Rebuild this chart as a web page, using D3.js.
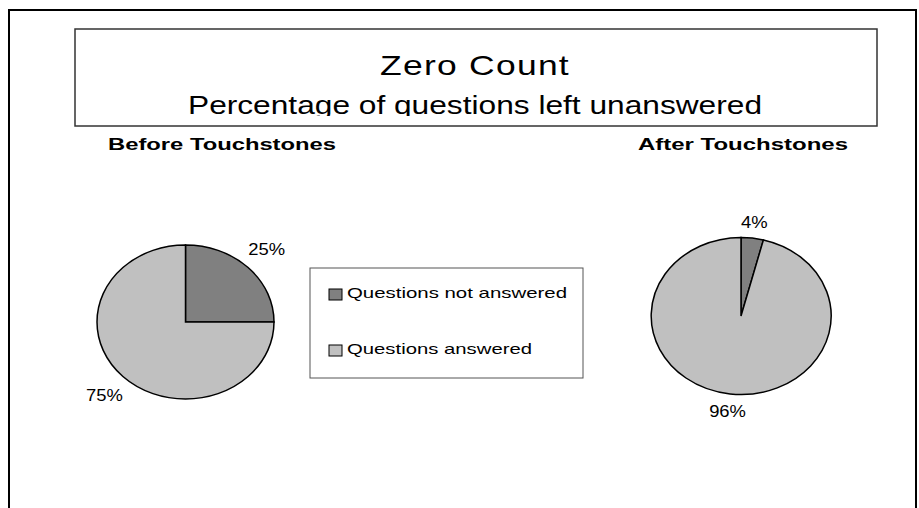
<!DOCTYPE html>
<html>
<head>
<meta charset="utf-8">
<script src="https://cdn.jsdelivr.net/npm/d3@7/dist/d3.min.js"></script>
<style>
    body { margin: 0; background: #fff; }
    text { font-family: "Liberation Sans", Arial, sans-serif; fill: #000; }
</style>
</head>
<body>
<script>
let width = 919;
let height = 508;

let titleLines = ["Zero Count", "Percentage of questions left unanswered"];
let categories = ["Questions not answered", "Questions answered"];
let pieTitles = ["Before Touchstones", "After Touchstones"];
let beforeValues = [25, 75];
let afterValues = [4, 96];
let colors = ["#808080", "#c0c0c0"];

let svg = d3.select("body").append("svg")
    .attr("width", width)
    .attr("height", height);

// stretch text horizontally, the original picture is wider than its fonts
function fit(sel, w) {
    sel.attr("textLength", w).attr("lengthAdjust", "spacingAndGlyphs");
}

// outer frame (runs off the bottom)
svg.append("path")
    .attr("d", "M9,520V10H916V520")
    .style("fill", "none")
    .style("stroke", "#000")
    .style("stroke-width", 2);

// title box
svg.append("rect")
    .attr("x", 75).attr("y", 29)
    .attr("width", 802).attr("height", 97)
    .style("fill", "#fff")
    .style("stroke", "#333")
    .style("stroke-width", 1.5);

svg.append("clipPath").attr("id", "titleClip")
    .append("rect").attr("x", 76).attr("y", 30).attr("width", 800).attr("height", 86);

let tg = svg.append("g").attr("clip-path", "url(#titleClip)");
tg.append("text")
    .attr("x", 380).attr("y", 75)
    .style("font-size", "28px")
    .style("letter-spacing", "1px")
    .text(titleLines[0])
    .call(fit, 190);
tg.append("text")
    .attr("x", 188).attr("y", 114)
    .style("font-size", "26px")
    .text(titleLines[1])
    .call(fit, 574);

// pies
let pies = [
    { title: pieTitles[0], values: beforeValues, cx: 185.5, cy: 322, rx: 88.5, ry: 77, tx: 108, tw: 228 },
    { title: pieTitles[1], values: afterValues, cx: 741, cy: 316, rx: 90, ry: 78.5, tx: 638, tw: 210 },
];

let pie = d3.pie().sort(null).value(d => d);
let arc = d3.arc().innerRadius(0).outerRadius(1);

pies.forEach(p => {
    svg.append("text")
        .attr("x", p.tx).attr("y", 150)
        .style("font-size", "17px")
        .style("font-weight", "bold")
        .text(p.title)
        .call(fit, p.tw);

    let g = svg.append("g").attr("transform", `translate(${p.cx},${p.cy})`);
    let arcs = pie(p.values);

    g.append("g")
        .attr("transform", `scale(${p.rx},${p.ry})`)
        .selectAll("path")
        .data(arcs)
        .enter()
        .append("path")
        .attr("d", arc)
        .attr("vector-effect", "non-scaling-stroke")
        .style("fill", (d, i) => colors[i])
        .style("stroke", "#000")
        .style("stroke-width", 1.5);

    // percentage labels outside the ellipse
    g.selectAll("text.lbl")
        .data(arcs)
        .enter()
        .append("text")
        .attr("class", "lbl")
        .style("font-size", "16px")
        .attr("text-anchor", "middle")
        .text(d => d3.format(".0%")(d.value / d3.sum(p.values)))
        .each(function (d) {
            let t = d3.select(this);
            let w = this.getComputedTextLength() * 1.15;
            t.call(fit, w);
            let a = (d.startAngle + d.endAngle) / 2;
            let ux = Math.sin(a), uy = -Math.cos(a);
            let off = 9 + Math.abs(ux) * w / 2 + Math.abs(uy) * 6;
            let x = p.rx * ux + ux * off;
            let y = p.ry * uy + uy * off;
            t.attr("x", x).attr("y", y + 6);
        });
});

// legend
let lg = svg.append("g");
lg.append("rect")
    .attr("x", 310).attr("y", 268)
    .attr("width", 273).attr("height", 110)
    .style("fill", "#fff")
    .style("stroke", "#555")
    .style("stroke-width", 1);

let legendY = d3.scalePoint().domain(categories).range([298, 354]);
let legendW = [220, 185];

let items = lg.selectAll("g.item")
    .data(categories)
    .enter()
    .append("g")
    .attr("class", "item");

items.append("rect")
    .attr("x", 329)
    .attr("y", d => legendY(d) - 9)
    .attr("width", 13).attr("height", 11)
    .style("fill", (d, i) => colors[i])
    .style("stroke", "#000")
    .style("stroke-width", 1);

items.append("text")
    .attr("x", 347)
    .attr("y", d => legendY(d))
    .style("font-size", "15px")
    .text(d => d)
    .each(function (d, i) { d3.select(this).call(fit, legendW[i]); });
</script>
</body>
</html>
